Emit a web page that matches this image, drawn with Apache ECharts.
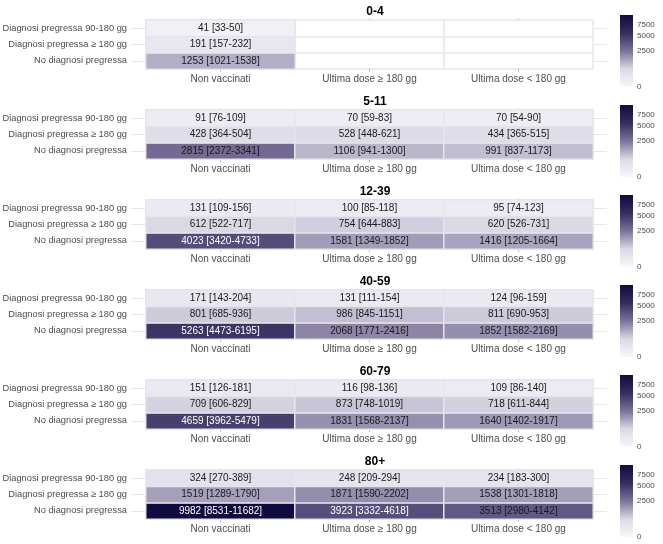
<!DOCTYPE html>
<html>
<head>
<meta charset="utf-8">
<script src="https://cdn.jsdelivr.net/npm/echarts@6/dist/echarts.min.js"></script>
<style>
  html, body { margin: 0; padding: 0; background: #fff; }
  #main { width: 663px; height: 544px; }
</style>
</head>
<body>
<div id="main"></div>
<script>
// dati: fasce di eta, colonne (stato vaccinale), righe (diagnosi pregressa, dal basso in alto)
var fasce = ['0-4', '5-11', '12-39', '40-59', '60-79', '80+'];
var colonne = ['Non vaccinati', 'Ultima dose ≥ 180 gg', 'Ultima dose < 180 gg'];
var righe = ['No diagnosi pregressa', 'Diagnosi pregressa ≥ 180 gg', 'Diagnosi pregressa 90-180 gg'];

// per fascia: [colonna][riga], righe nell'ordine di `righe`
var stima = [
    [[1253, 191, 41], [null, null, null], [null, null, null]],
    [[2815, 428, 91], [1106, 528, 70], [991, 434, 70]],
    [[4023, 612, 131], [1581, 754, 100], [1416, 620, 95]],
    [[5263, 801, 171], [2068, 986, 131], [1852, 811, 124]],
    [[4659, 709, 151], [1831, 873, 116], [1640, 718, 109]],
    [[9982, 1519, 324], [3923, 1871, 248], [3513, 1538, 234]]
];
var icInf = [
    [[1021, 157, 33], [null, null, null], [null, null, null]],
    [[2372, 364, 76], [941, 448, 59], [837, 365, 54]],
    [[3420, 522, 109], [1349, 644, 85], [1205, 526, 74]],
    [[4473, 685, 143], [1771, 845, 111], [1582, 690, 96]],
    [[3962, 606, 126], [1568, 748, 98], [1402, 611, 86]],
    [[8531, 1289, 270], [3332, 1590, 209], [2980, 1301, 183]]
];
var icSup = [
    [[1538, 232, 50], [null, null, null], [null, null, null]],
    [[3341, 504, 109], [1300, 621, 83], [1173, 515, 90]],
    [[4733, 717, 156], [1852, 883, 118], [1664, 731, 123]],
    [[6195, 936, 204], [2416, 1151, 154], [2169, 953, 159]],
    [[5479, 829, 181], [2137, 1019, 136], [1917, 844, 140]],
    [[11682, 1790, 389], [4618, 2202, 294], [4142, 1818, 300]]
];
var tickLegenda = [0, 2500, 5000, 7500];

var myChart = echarts.init(document.getElementById('main'));

var font = "'Liberation Sans', Arial, sans-serif";
var coloriScala = ['#f8f8fc', '#dbd8e4', '#7c7299', '#362c60', '#100b3e'];
var maxVal = 9982;
var sqrtMax = Math.sqrt(maxVal);
var lineaGriglia = '#e3e6ec';

var grids = [], xAxes = [], yAxes = [], series = [], titles = [], heatIdx = [];

fasce.forEach(function (fascia, f) {
    var top = 20 + 90 * f;

    titles.push({
        text: fascia, left: 370, top: top - 19, textAlign: 'center',
        textStyle: { fontFamily: font, fontSize: 12, fontWeight: 'bold', color: '#000' }
    });

    // griglia heatmap
    var g = grids.length;
    grids.push({ left: 146, top: top, width: 447, height: 49, outerBoundsMode: 'none', containLabel: false });
    var xb = xAxes.length;
    xAxes.push({
        type: 'category', gridIndex: g, data: colonne, position: 'bottom',
        axisLine: { show: false },
        axisTick: { show: true, alignWithLabel: true, length: 3, lineStyle: { color: '#bdbdbd' } },
        axisLabel: { margin: 5, fontFamily: font, fontSize: 10, color: '#4d4d4d' },
        splitLine: { show: true, lineStyle: { color: lineaGriglia, width: 1.5 } }
    });
    xAxes.push({
        type: 'category', gridIndex: g, data: colonne, position: 'top',
        axisLine: { show: false },
        axisTick: { show: true, alignWithLabel: true, length: 2, lineStyle: { color: '#d5d5d5' } },
        axisLabel: { show: false }
    });
    var yl = yAxes.length;
    yAxes.push({
        type: 'category', gridIndex: g, data: righe, position: 'left',
        axisLine: { show: false },
        axisTick: { show: true, alignWithLabel: true, length: 15, lineStyle: { color: '#e6e6e6' } },
        axisLabel: { margin: 19, fontFamily: font, fontSize: 9.3, color: '#4d4d4d' },
        splitLine: { show: true, lineStyle: { color: lineaGriglia, width: 1.5 } }
    });
    yAxes.push({
        type: 'category', gridIndex: g, data: righe, position: 'right',
        axisLine: { show: false },
        axisTick: { show: true, alignWithLabel: true, length: 14, lineStyle: { color: '#e6e6e6' } },
        axisLabel: { show: false }
    });

    var dati = [];
    colonne.forEach(function (c, ci) {
        righe.forEach(function (r, ri) {
            var v = stima[f][ci][ri];
            if (v === null) return;
            dati.push({
                value: [ci, ri, Math.sqrt(v), v, icInf[f][ci][ri], icSup[f][ci][ri]],
                label: { color: v > 3700 ? '#ffffff' : '#1a1a1a' }
            });
        });
    });
    heatIdx.push(series.length);
    series.push({
        type: 'heatmap', xAxisIndex: xb, yAxisIndex: yl, data: dati,
        itemStyle: { borderColor: lineaGriglia, borderWidth: 1.5 },
        label: {
            show: true, fontFamily: font, fontSize: 10,
            formatter: function (p) {
                return p.data.value[3] + ' [' + p.data.value[4] + '-' + p.data.value[5] + ']';
            }
        },
        emphasis: { disabled: true }
    });

    // barra della legenda (scala radice quadrata)
    var gl = grids.length;
    grids.push({ left: 620, top: top - 5, width: 13, height: 72, outerBoundsMode: 'none', containLabel: false });
    var xl = xAxes.length;
    xAxes.push({ type: 'category', gridIndex: gl, data: [''], show: false });
    var yr = yAxes.length;
    yAxes.push({
        type: 'value', gridIndex: gl, min: 0, max: sqrtMax, position: 'right',
        axisLine: { show: false },
        splitLine: { show: false },
        axisTick: {
            show: true, inside: true, length: 3,
            customValues: tickLegenda.map(Math.sqrt), lineStyle: { color: '#ffffff' }
        },
        axisLabel: {
            margin: 4, fontFamily: font, fontSize: 8, color: '#4d4d4d',
            customValues: tickLegenda.map(Math.sqrt),
            formatter: function (v) { return Math.round(v * v); }
        }
    });
    yAxes.push({
        type: 'value', gridIndex: gl, min: 0, max: sqrtMax, position: 'left',
        axisLine: { show: false }, splitLine: { show: false }, axisLabel: { show: false },
        axisTick: {
            show: true, inside: true, length: 3,
            customValues: tickLegenda.map(Math.sqrt), lineStyle: { color: '#ffffff' }
        }
    });
    var stops = coloriScala.map(function (c, i) {
        return { offset: 1 - i / (coloriScala.length - 1), color: c };
    });
    series.push({
        type: 'bar', xAxisIndex: xl, yAxisIndex: yr, data: [sqrtMax], barWidth: '100%',
        silent: true, z: 1,
        itemStyle: { color: new echarts.graphic.LinearGradient(0, 0, 0, 1, stops.reverse()) }
    });
});

var option = {
    backgroundColor: '#ffffff',
    animation: false,
    title: titles,
    grid: grids,
    xAxis: xAxes,
    yAxis: yAxes,
    visualMap: {
        show: false, type: 'continuous', dimension: 2,
        min: 0, max: sqrtMax, seriesIndex: heatIdx,
        inRange: { color: coloriScala }
    },
    series: series
};
myChart.setOption(option);
</script>
</body>
</html>
